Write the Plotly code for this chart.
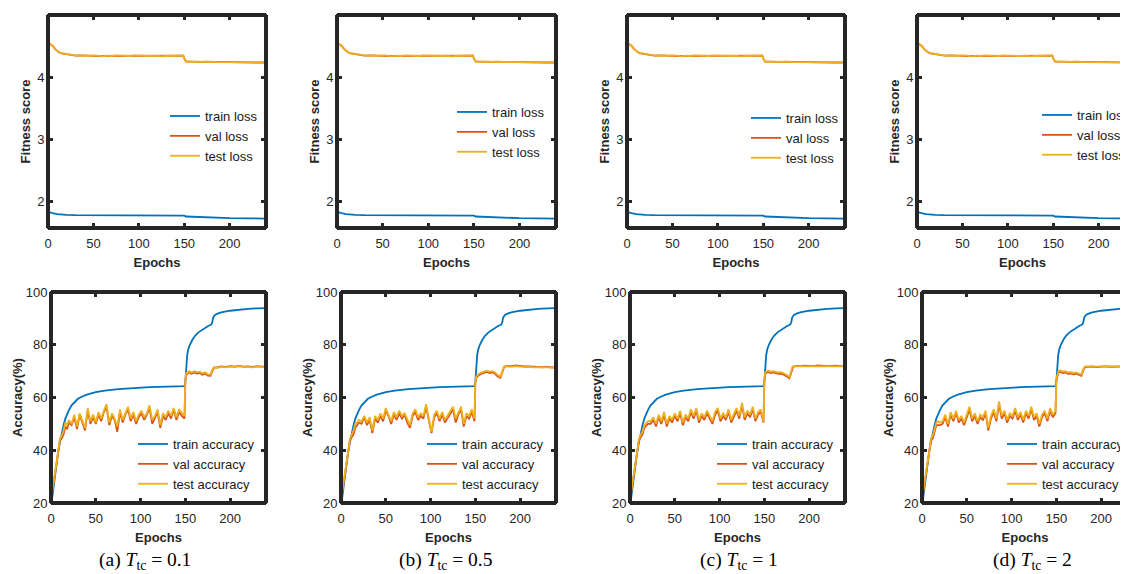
import plotly.graph_objects as go

# The page body has an 8px margin, so the figure is sized to fill the rest of the window.
OFF = 8
WIN_W, WIN_H = 1128, 574
W, H = WIN_W - OFF, WIN_H - OFF
BLUE, RED, ORANGE = "#0072BD", "#D95319", "#EDB120"
AXC = "#262626"
SANS = "Liberation Sans, Arial, sans-serif"
SERIF = "Liberation Serif, Times New Roman, serif"
LW = 1.8

# ---------------- data ----------------
x_ticks = [0, 50, 100, 150, 200]
loss_ticks = [2, 3, 4, 5]
acc_ticks = [20, 40, 60, 80, 100]

loss_epochs = [0, 2, 5, 8, 10, 12, 15, 20, 25, 30, 35, 40, 45, 50, 55, 60, 65, 70, 75, 80,
               85, 90, 95, 100, 105, 110, 115, 120, 125, 130, 135, 140, 145, 149, 150, 151,
               152, 155, 160, 165, 170, 175, 180, 185, 190, 200, 210, 220, 230, 240]
test_loss = [4.56, 4.54, 4.50, 4.45, 4.42, 4.40, 4.385, 4.37, 4.355, 4.35, 4.345, 4.35, 4.34,
             4.35, 4.345, 4.335, 4.345, 4.34, 4.35, 4.345, 4.35, 4.34, 4.35, 4.345, 4.34,
             4.345, 4.34, 4.345, 4.335, 4.34, 4.345, 4.34, 4.345, 4.35, 4.30, 4.26, 4.25,
             4.25, 4.25, 4.245, 4.25, 4.255, 4.245, 4.24, 4.24, 4.24, 4.24, 4.235, 4.235, 4.235]
val_loss = [4.555, 4.54, 4.505, 4.45, 4.425, 4.40, 4.38, 4.365, 4.355, 4.345, 4.35, 4.345,
            4.345, 4.345, 4.34, 4.34, 4.34, 4.345, 4.345, 4.34, 4.345, 4.345, 4.345, 4.34,
            4.345, 4.34, 4.345, 4.34, 4.34, 4.345, 4.34, 4.345, 4.34, 4.345, 4.30, 4.26,
            4.25, 4.25, 4.245, 4.25, 4.245, 4.25, 4.245, 4.24, 4.24, 4.24, 4.235, 4.235,
            4.235, 4.235]
train_loss_epochs = [0, 2, 5, 10, 15, 20, 30, 50, 100, 149, 150, 152, 160, 170, 180, 182,
                     200, 220, 240]
train_loss = [1.83, 1.82, 1.81, 1.795, 1.785, 1.78, 1.776, 1.775, 1.775, 1.775, 1.77,
              1.755, 1.75, 1.747, 1.743, 1.733, 1.728, 1.725, 1.722]

train_acc_epochs = [0, 1, 2, 3, 4, 5, 6, 8, 10, 12, 14, 16, 18, 20, 23, 26, 30, 35, 40, 50,
                    60, 75, 90, 110, 130, 149, 150, 151, 152, 153, 155, 158, 161, 165, 170,
                    175, 179, 180, 181, 183, 186, 190, 200, 210, 220, 230, 240]
train_acc = [18.5, 21, 24, 27, 30, 33, 35.5, 39.5, 43, 46.5, 49.5, 52, 53.8, 55.2, 57, 58.2,
             59.5, 60.4, 61.1, 62, 62.6, 63.2, 63.6, 63.9, 64.1, 64.3, 66, 72, 76, 78, 80,
             82, 83.5, 84.8, 86, 87, 87.7, 88.5, 90.3, 91.3, 91.8, 92.3, 92.9, 93.3, 93.6,
             93.8, 93.9]

acc_epochs = [0, 1, 2, 4, 6, 8, 10, 12, 14, 16, 18, 20,
              23, 26, 29, 32, 35, 38, 41, 44, 47, 50, 53, 56, 59, 62, 65, 68, 71, 74, 77, 80,
              83, 86, 89, 92, 95, 98, 101, 104, 107, 110, 113, 116, 119, 122, 125, 128, 131,
              134, 137, 140, 143, 146, 149,
              150, 151, 152, 154, 157, 160, 163, 166, 169, 172, 175, 178, 180, 181, 182,
              185, 190, 195, 200, 205, 210, 215, 220, 225, 230, 235, 240]

test_acc_a = [21.5, 24, 27, 31, 35, 39.5, 44.5, 45.5, 47.5, 50.5, 49.5, 51.5,
              50, 53.5, 49, 54, 51.5, 48.5, 56, 51, 53.5, 50.5, 54.5, 52, 55, 57.5, 50.5, 54,
              52, 49, 55.5, 51.5, 54, 56.5, 52, 54.5, 51, 53.5, 55, 52.5, 54, 57, 51.5, 53,
              55.5, 49.5, 54, 52.5, 55, 53, 56, 52.5, 55.5, 54, 53,
              67, 69.5, 69.2, 70, 69.5, 70, 69.6, 69.8, 69.2, 69.6, 68.8, 68.7, 70.5, 71.3, 71.5,
              71.2, 71.6, 71.4, 71.7, 71.5, 71.8, 71.5, 71.6, 71.4, 71.7, 71.5, 71.6]
val_acc_a = [21, 23.5, 26.5, 30.5, 34.5, 39, 44, 44.5, 46, 49, 48, 50.5,
             49.5, 52.5, 48, 53.5, 50.5, 47.5, 55, 50, 52.5, 50, 53.5, 51, 54.5, 56.5, 49.5, 53,
             51.5, 47, 54.5, 50.5, 53.5, 55.5, 51, 53.5, 50, 52.5, 54, 51.5, 53.5, 56, 50, 52.5,
             54.5, 48.5, 53, 51.5, 54, 52, 55.5, 51.5, 54.5, 53, 52,
             66.5, 69, 68.8, 69.6, 69, 69.5, 69.1, 69.3, 68.6, 69.1, 68.3, 68.2, 70, 71, 71.3,
             71.4, 71.8, 71.6, 71.9, 71.7, 72.0, 71.7, 71.8, 71.6, 71.9, 71.7, 71.8]

test_acc_b = [21.5, 24, 27, 31, 35, 39.5, 44.5, 46, 47.5, 50, 50.5, 51.5,
              51, 53, 50.5, 52.5, 47.5, 53, 51.5, 54, 52, 56, 53.5, 51, 54.5, 52.5, 55, 53, 54,
              51.5, 49.5, 54, 55.5, 52.5, 54, 53, 57.5, 52, 47, 53.5, 55, 52, 54.5, 51.5, 53,
              55, 56.5, 52, 54.5, 56.5, 50, 54, 53, 55.5, 52,
              66, 68, 68.3, 69, 69.5, 70, 70.2, 69.8, 70, 69.5, 68.5, 68, 70, 71.3, 71.8,
              71.8, 71.6, 71.9, 71.7, 71.5, 71.6, 71.4, 71.5, 71.3, 71.5, 71.2, 71.3]
val_acc_b = [21, 23.5, 26.5, 30.5, 34.5, 39, 44, 45, 46, 48.5, 49.5, 50.5,
             50, 52.5, 49.5, 51.5, 46.5, 52, 50.5, 53, 51, 55, 53, 50, 53.5, 51.5, 54, 52, 53.5,
             50.5, 48.5, 53, 54.5, 51.5, 53, 52, 56.5, 51, 46.5, 52.5, 54, 51, 53.5, 50.5, 52,
             54, 55.5, 50.5, 53.5, 55.5, 49, 53, 52, 54.5, 51,
             65.5, 67.5, 67.8, 68.5, 69, 69.5, 69.7, 69.3, 69.5, 69, 68, 67.5, 69.5, 71, 71.5,
             72, 71.9, 72.2, 71.9, 71.8, 71.8, 71.7, 71.7, 71.5, 71.7, 71.4, 71.5]

test_acc_c = [21.5, 24, 27, 31, 35, 39.5, 44.5, 46, 47, 49.5, 50.5, 51,
              51, 52.5, 50, 53.5, 51, 54.5, 50, 53, 51.5, 54, 52, 55, 50.5, 53.5, 52, 55.5, 53,
              56, 51.5, 54, 52.5, 55, 53, 51, 54.5, 56, 52, 54, 52.5, 55.5, 51.5, 54, 56, 53,
              58, 52.5, 55, 53.5, 56.5, 52, 54.5, 55.5, 51,
              67, 69.5, 69.8, 70.2, 69.8, 70, 69.7, 69.5, 69.6, 69.2, 68.5, 67.8, 70.5, 71.5, 71.8,
              71.8, 71.7, 71.9, 71.8, 71.7, 71.9, 71.8, 71.7, 71.8, 71.9, 71.7, 71.8]
val_acc_c = [21, 23.5, 26.5, 30.5, 34.5, 39, 44, 45, 46, 48.5, 49.5, 50,
             50, 51.5, 49, 52.5, 50, 53.5, 49, 52, 50.5, 53, 51, 54, 49.5, 52.5, 51, 54.5, 52,
             55, 50.5, 53, 51.5, 54, 52, 50, 53.5, 55, 51, 53, 51.5, 54.5, 50.5, 53, 55, 52,
             57, 51.5, 54, 52.5, 55.5, 51, 53.5, 54.5, 50.5,
             66.5, 69, 69.3, 69.7, 69.3, 69.5, 69.2, 69, 69.1, 68.7, 68, 67.3, 70, 71.2, 71.6,
             72, 71.9, 72.1, 72, 71.9, 72.2, 72, 71.9, 72, 72.1, 71.9, 72]

test_acc_d = [21.5, 24, 27, 31, 35, 39.5, 44.5, 45.5, 48, 50.5, 51, 50.5,
              51, 53.5, 50, 54.5, 52, 55, 51.5, 53, 50.5, 54, 56.5, 52, 54, 51, 53.5, 52.5, 55,
              48.5, 53, 55.5, 52, 58.5, 53, 55, 51.5, 54, 53, 56, 52.5, 54.5, 51.5, 55, 53,
              56.5, 52.5, 54, 50, 53.5, 55, 52, 56, 53.5, 55,
              67, 69.2, 69.8, 70.3, 69.8, 70, 69.5, 69.6, 69.3, 69.5, 69, 68.7, 70.8, 71.5, 71.8,
              71.8, 71.9, 71.7, 71.9, 72, 71.8, 71.9, 72, 71.9, 72, 71.9, 72]
val_acc_d = [21, 23.5, 26.5, 30.5, 34.5, 39, 44, 44.5, 47, 49.5, 49.5, 49.5,
             50, 52.5, 49, 53.5, 51, 54, 50.5, 52, 49.5, 53, 55.5, 51, 53, 50, 52.5, 51.5, 54,
             47.5, 52, 54.5, 51, 57.5, 52, 54, 50.5, 53, 52, 55, 51.5, 53.5, 50.5, 54, 52,
             55.5, 51.5, 53, 49, 52.5, 54, 51, 55, 52.5, 54,
             66.5, 68.7, 69.3, 69.8, 69.3, 69.5, 69, 69.1, 68.8, 69, 68.5, 68.2, 70.3, 71.2, 71.5,
             71.6, 71.7, 71.5, 71.7, 71.8, 71.6, 71.7, 71.8, 71.7, 71.8, 71.7, 71.8]

panel_letters = ["a", "b", "c", "d"]
tc_values = ["0.1", "0.5", "1", "2"]
val_acc_sets = [val_acc_a, val_acc_b, val_acc_c, val_acc_d]
test_acc_sets = [test_acc_a, test_acc_b, test_acc_c, test_acc_d]

# ---------------- layout geometry (window pixels) ----------------
top_boxes = [(48, 266), (337, 556), (627, 845), (917, 1135)]
bot_boxes = [(51, 266), (341, 556), (630, 845), (922, 1137)]
top_y = (15, 228)
bot_y = (292, 503)
top_leg = [(165, 101), (452, 97), (746, 103), (1037, 100)]
bot_leg = [(133, 429), (422, 429), (712, 429), (1002, 429)]
caption_x = [145, 445, 739, 1032]
caption_y = 561
FRAME_W = 4

fig = go.Figure()
layout = dict(width=W, height=H, margin=dict(l=0, r=0, t=0, b=0, autoexpand=False),
              paper_bgcolor="white", plot_bgcolor="white", showlegend=True)
shapes = []


def px2x(p):
    return (p - OFF) / W


def px2y(p):
    return 1 - (p - OFF) / H


def add_axes(idx, box, yb, yrange, yticks, ytitle, ystandoff):
    left, right = box
    vis_right = min(right, WIN_W)
    xmax = 240 * (vis_right - left) / (right - left)
    clipped = right > WIN_W
    xname = "xaxis" if idx == 1 else f"xaxis{idx}"
    yname = "yaxis" if idx == 1 else f"yaxis{idx}"
    xr = "x" if idx == 1 else f"x{idx}"
    yr = "y" if idx == 1 else f"y{idx}"
    common = dict(showline=True, linewidth=1, linecolor=AXC, ticks="inside",
                  ticklen=5, tickwidth=3, tickcolor=AXC, showgrid=False, zeroline=False,
                  automargin=False,
                  tickfont=dict(family=SANS, size=13, color=AXC))
    layout[xname] = dict(common, domain=[px2x(left), px2x(vis_right)], range=[0, xmax],
                         tickvals=x_ticks, mirror="ticks", anchor=yr, ticklabelstandoff=3,
                         title=dict(text="Epochs", standoff=8,
                                    font=dict(family=SANS, size=13, color=AXC, weight="bold")))
    layout[yname] = dict(common, domain=[px2y(yb[1]), px2y(yb[0])], range=yrange,
                         tickvals=yticks, mirror=False if clipped else "ticks", anchor=xr,
                         ticklabelstandoff=0,
                         title=dict(text=ytitle, standoff=ystandoff,
                                    font=dict(family=SANS, size=13, color=AXC, weight="bold")))
    # thick MATLAB-like box, in paper coordinates so it is not clipped
    x0, x1 = px2x(left), px2x(vis_right)
    y0, y1 = px2y(yb[1]), px2y(yb[0])
    sides = [(x0, y0, x1, y0), (x0, y1, x1, y1), (x0, y0, x0, y1)]
    if not clipped:
        sides.append((x1, y0, x1, y1))
    for a, b, c, d in sides:
        shapes.append(dict(type="line", xref="paper", yref="paper",
                           x0=a, y0=b, x1=c, y1=d, layer="above",
                           line=dict(color=AXC, width=FRAME_W)))


def add_legend(name, pos):
    layout[name] = dict(x=px2x(pos[0]), y=px2y(pos[1]), xanchor="left", yanchor="top",
                        bgcolor="rgba(0,0,0,0)", borderwidth=0,
                        font=dict(family=SANS, size=13, color="#1a1a1a"))


for i in range(4):
    # top row: fitness score
    idx = i + 1
    add_axes(idx, top_boxes[i], top_y, [1.57, 5], loss_ticks, "Fitness score", 3)
    lname = "legend" if idx == 1 else f"legend{idx}"
    add_legend(lname, top_leg[i])
    xa, ya = ("x", "y") if idx == 1 else (f"x{idx}", f"y{idx}")
    fig.add_trace(go.Scatter(x=train_loss_epochs, y=train_loss, mode="lines", name="train loss",
                             line=dict(color=BLUE, width=LW), xaxis=xa, yaxis=ya, legend=lname))
    fig.add_trace(go.Scatter(x=loss_epochs, y=val_loss, mode="lines", name="val loss",
                             line=dict(color=RED, width=LW), xaxis=xa, yaxis=ya, legend=lname))
    fig.add_trace(go.Scatter(x=loss_epochs, y=test_loss, mode="lines", name="test loss",
                             line=dict(color=ORANGE, width=LW), xaxis=xa, yaxis=ya, legend=lname))

    # bottom row: accuracy
    idx = i + 5
    add_axes(idx, bot_boxes[i], bot_y, [20, 100], acc_ticks, "Accuracy(%)", 0)
    lname = f"legend{idx}"
    add_legend(lname, bot_leg[i])
    xa, ya = f"x{idx}", f"y{idx}"
    fig.add_trace(go.Scatter(x=train_acc_epochs, y=train_acc, mode="lines", name="train accuracy",
                             line=dict(color=BLUE, width=LW), xaxis=xa, yaxis=ya, legend=lname))
    fig.add_trace(go.Scatter(x=acc_epochs, y=val_acc_sets[i], mode="lines", name="val accuracy",
                             line=dict(color=RED, width=LW), xaxis=xa, yaxis=ya, legend=lname))
    fig.add_trace(go.Scatter(x=acc_epochs, y=test_acc_sets[i], mode="lines", name="test accuracy",
                             line=dict(color=ORANGE, width=LW), xaxis=xa, yaxis=ya, legend=lname))

annotations = []
for i in range(4):
    annotations.append(dict(
        text=f"({panel_letters[i]}) <i>T</i><sub>tc</sub> = {tc_values[i]}",
        x=px2x(caption_x[i]), y=px2y(caption_y), xref="paper", yref="paper",
        xanchor="center", yanchor="middle", showarrow=False,
        font=dict(family=SERIF, size=19.5, color="black")))
layout["annotations"] = annotations
layout["shapes"] = shapes

fig.update_layout(**layout)
fig.write_html("out.html")
